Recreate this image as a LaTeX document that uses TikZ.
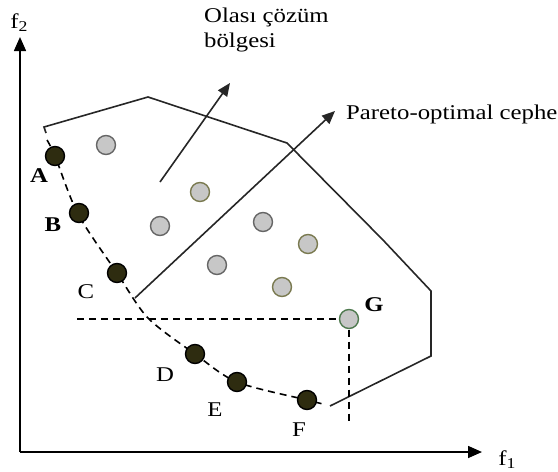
\documentclass[tikz,border=0pt]{standalone}
\usepackage{fontspec}
\setmainfont{Liberation Serif}
\usetikzlibrary{arrows.meta}
\newcommand\wt[1]{\scalebox{1.18}[1]{#1}}
\definecolor{dkfill}{HTML}{2E2C10}
\definecolor{olline}{HTML}{7A7A50}
\definecolor{gnline}{HTML}{4F7A4F}
\tikzset{
  ax/.style={line width=1.6pt,-{Triangle[length=14pt,width=12pt]}},
  bnd/.style={line width=1.6pt,draw=black!85},
  parr/.style={line width=1.6pt,draw=black!85,-{Triangle[length=13pt,width=11pt]}},
  dsh/.style={line width=1.6pt,dash pattern=on 7pt off 5pt},
  dot/.style={circle,minimum size=19pt,inner sep=0pt,line width=1.4pt},
  dk/.style={dot,fill=dkfill,draw=black},
  gr/.style={dot,fill=black!22,draw=black!60},
  ol/.style={dot,fill=black!22,draw=olline},
  gn/.style={dot,fill=black!22,draw=gnline},
  lbl/.style={font=\fontsize{21}{25}\selectfont,inner sep=0pt},
  txt/.style={font=\fontsize{21}{25}\selectfont,inner sep=0pt,align=left,anchor=base west}
}
\begin{document}
\begin{tikzpicture}[x=1pt,y=-1pt]
\useasboundingbox (0,0) rectangle (558,472);
% axes
\coordinate (O) at (20,452);
\coordinate (Y) at (20,37);
\coordinate (X) at (482,452);
\draw[ax] (O) -- (Y);
\draw[ax] (O) -- (X);
\node[lbl,anchor=base] (f2) at (19,28) {\wt{f\raisebox{-0.35ex}{\fontsize{15}{15}\selectfont 2}}};
\node[lbl,anchor=base] (f1) at (507,465) {\wt{f\raisebox{-0.35ex}{\fontsize{15}{15}\selectfont 1}}};
% feasible region boundary
\coordinate (p0) at (46,133);
\coordinate (p1) at (44,127);
\coordinate (p2) at (148,97);
\coordinate (p3) at (287,143);
\coordinate (p4) at (383,240);
\coordinate (p5) at (431,291);
\coordinate (p6) at (431,356);
\coordinate (p7) at (330,406);
\draw[bnd] (p0) -- (p1) -- (p2) -- (p3) -- (p4) -- (p5) -- (p6) -- (p7);
% pareto front (dashed)
\draw[dsh] plot[smooth,tension=0.5] coordinates {(47,140) (55,156) (78,214) (117,273) (148,318) (195,354) (237,382) (307,400) (323,404)};
% dashed lines to G
\coordinate (hl) at (77,319);
\coordinate (vb) at (349,421);
% points
\node[dk] (A) at (55,156) {};
\node[dk] (B) at (79,213) {};
\node[dk] (C) at (117,273) {};
\node[dk] (D) at (195,354) {};
\node[dk] (E) at (237,382) {};
\node[dk] (F) at (307,400) {};
\node[gr] (g1) at (106,145) {};
\node[gr] (g2) at (160,226) {};
\node[gr] (g3) at (263,222) {};
\node[gr] (g4) at (217,265) {};
\node[ol] (o1) at (200,192) {};
\node[ol] (o2) at (308,244) {};
\node[ol] (o3) at (282,287) {};
\draw[dsh] (hl) -- (338.5,319);
\draw[dsh] (349,329.5) -- (vb);
\node[gn] (G) at (349,319) {};
% labels
\node[lbl] (lA) at (39,176) {\wt{\textbf{A}}};
\node[lbl] (lB) at (53,225) {\wt{\textbf{B}}};
\node[lbl] (lC) at (86,292) {\wt{C}};
\node[lbl] (lD) at (165,375) {\wt{D}};
\node[lbl] (lE) at (215,410) {\wt{E}};
\node[lbl] (lF) at (299,430) {\wt{F}};
\node[lbl] (lG) at (374,305) {\wt{\textbf{G}}};
% annotations
\node[txt] (t1) at (204,47) {\wt{Olası çözüm}\\[0pt]\wt{bölgesi}};
\node[txt] (t2) at (346,119) {\wt{Pareto-optimal cephe}};
\coordinate (a1s) at (160,182);
\coordinate (a1e) at (230,83);
\coordinate (a2s) at (135,298);
\coordinate (a2e) at (335,111);
\draw[parr] (a1s) -- (a1e);
\draw[parr] (a2s) -- (a2e);
\end{tikzpicture}
\end{document}
